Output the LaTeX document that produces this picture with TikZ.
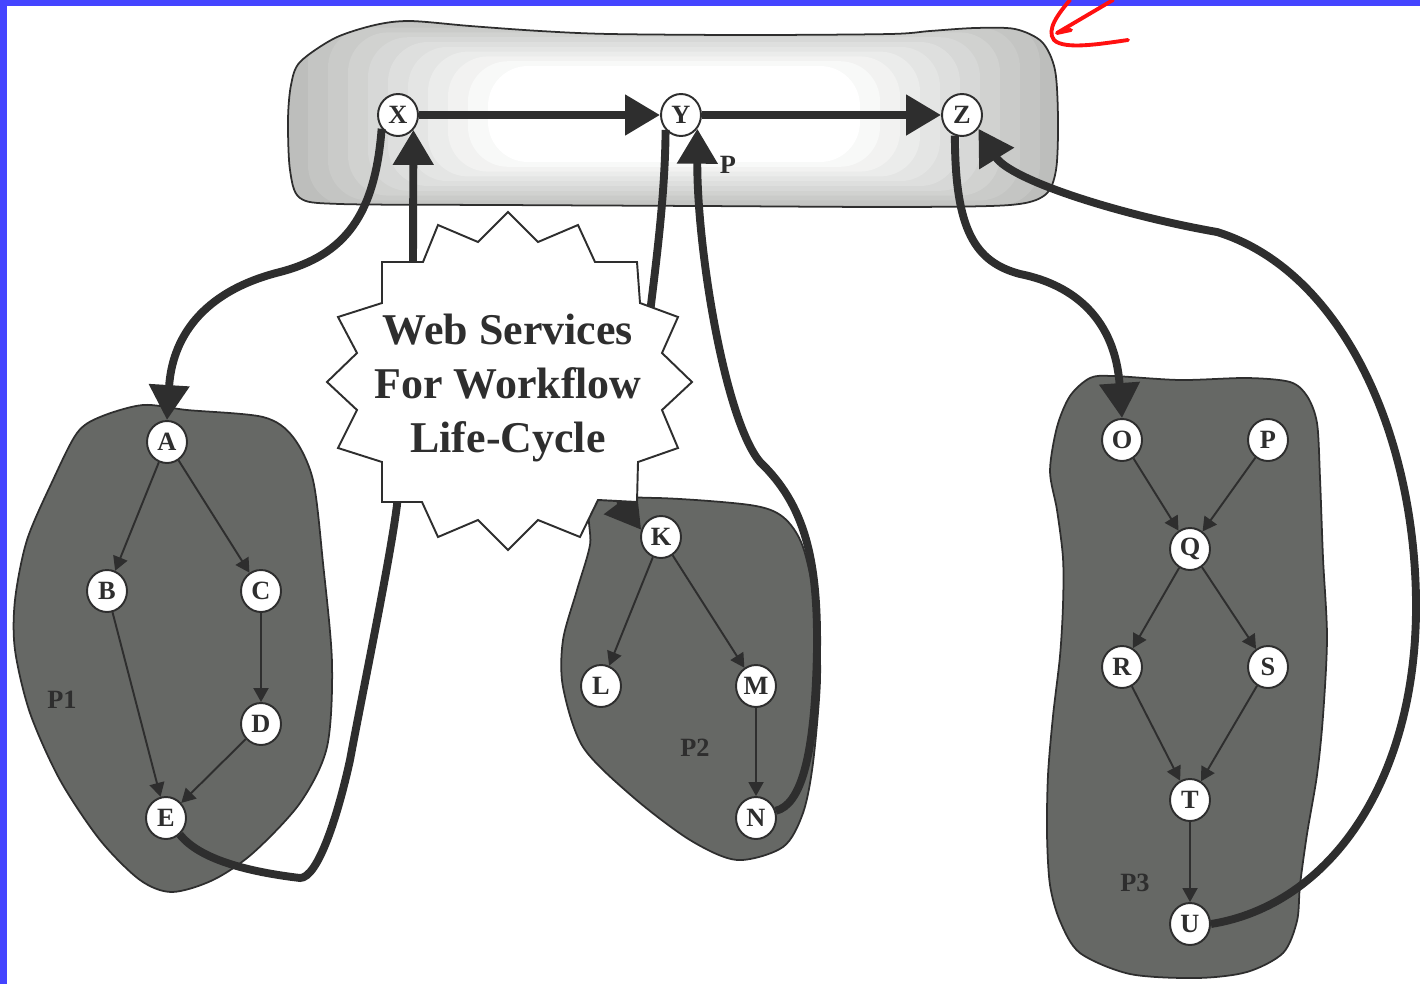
\documentclass[tikz,border=0pt]{standalone}
\usepackage{fontspec}
\setmainfont{Liberation Serif}
\usetikzlibrary{arrows.meta,shapes.geometric}
\definecolor{Ink}{HTML}{2E2E2E}
\definecolor{PoolGray}{HTML}{666865}
\definecolor{BandGray}{HTML}{BDBEBC}
\definecolor{Frame}{HTML}{4444FF}
\definecolor{Scribble}{HTML}{FF1010}
\tikzset{
  task/.style={
    ellipse, draw=Ink, line width=1.1pt, fill=white,
    minimum width=0.8cm, minimum height=0.84cm, inner sep=0pt,
    font=\fontsize{15}{15}\selectfont\bfseries, text=Ink
  },
  pool/.style={draw=Ink, line width=1pt, fill=PoolGray},
  pooltag/.style={font=\fontsize{15}{15}\selectfont\bfseries, text=Ink},
  band/.style={draw=Ink, line width=1pt},
  burst/.style={draw=Ink, line width=1.1pt, fill=white, line join=miter},
  edge/.style={-{Triangle[length=0.28cm,width=0.3cm]}, line width=1.1pt, draw=Ink},
  bigflow/.style={-{Triangle[length=0.7cm,width=0.78cm]}, line width=4.5pt, draw=Ink},
  bigline/.style={line width=4.5pt, draw=Ink}
}

\begin{document}
\begin{tikzpicture}[x=0.02cm, y=-0.02cm]
  \useasboundingbox (0,0) rectangle (1420,984);
  \fill[Frame] (0,0) rectangle (1420,6);
  \fill[Frame] (0,0) rectangle (7,984);

  % global workflow band
  \draw[band, path picture={
      \foreach \k in {0,...,10}{
        \pgfmathtruncatemacro{\tint}{10*\k}
        \fill[white!\tint!BandGray, rounded corners=0.8cm]
          (288+20*\k,18+4.8*\k) rectangle (1060-20*\k,210-4.8*\k);
      }}]
    plot[smooth cycle, tension=0.5] coordinates {
      (300,62) (335,38) (375,25) (410,21) (470,26) (540,31) (610,34)
      (750,35) (890,34) (930,31) (975,28) (1015,29) (1042,42) (1055,70)
      (1058,120) (1056,170) (1045,195) (1010,205) (900,207) (700,206)
      (500,205) (340,204) (300,198) (290,170) (288,120) (291,85)};

  % sub-workflows
  \draw[pool] plot[smooth cycle] coordinates {
    (143,405) (100,417) (77,433) (53,480) (27,540) (15,600) (15,650)
    (30,713) (60,780) (100,840) (140,880) (172,892) (213,880) (253,853)
    (300,803) (327,747) (332,663) (323,563) (313,480) (293,437) (263,417)
    (187,410)};
  \draw[pool] plot[smooth cycle] coordinates {
    (593,502) (657,498) (750,505) (783,517) (803,547) (817,613) (820,680)
    (813,763) (803,813) (783,847) (737,860) (690,840) (633,797) (583,747)
    (563,687) (563,640) (577,590) (590,545)};
  \draw[pool] plot[smooth cycle] coordinates {
    (1090,378) (1070,396) (1057,427) (1050,471) (1057,510) (1063,558)
    (1063,605) (1060,656) (1053,716) (1048,775) (1047,834) (1050,885)
    (1060,921) (1080,953) (1130,974) (1197,978) (1247,972) (1283,953)
    (1297,921) (1300,885) (1307,834) (1317,775) (1323,716) (1327,637)
    (1323,558) (1320,478) (1317,423) (1307,396) (1290,382) (1247,378)
    (1180,380) (1113,376)};

  \node[task] (X) at (398,115) {X};
  \node[task] (Y) at (681,115) {Y};
  \node[task] (Z) at (962,115) {Z};
  \node[task] (A) at (167,442) {A};
  \node[task] (B) at (107,591) {B};
  \node[task] (C) at (261,591) {C};
  \node[task] (D) at (261,724) {D};
  \node[task] (E) at (166,818) {E};
  \node[task] (K) at (661,537) {K};
  \node[task] (L) at (601,686) {L};
  \node[task] (M) at (756,686) {M};
  \node[task] (N) at (756,818) {N};
  \node[task] (O) at (1122,440) {O};
  \node[task] (P) at (1268,440) {P};
  \node[task] (Q) at (1190,549) {Q};
  \node[task] (R) at (1122,667) {R};
  \node[task] (S) at (1268,667) {S};
  \node[task] (T) at (1190,800) {T};
  \node[task] (U) at (1190,924) {U};

  \node[pooltag] (p1) at (62,700) {P1};
  \node[pooltag] (p2) at (695,748) {P2};
  \node[pooltag] (p3) at (1135,883) {P3};
  \node[pooltag] (ptag) at (728,165) {P};

  \foreach \a/\b in {A/B,A/C,C/D,B/E,D/E,K/L,K/M,M/N,O/Q,P/Q,Q/R,Q/S,R/T,S/T,T/U}
    \draw[edge] (\a) -- (\b);

  % links running behind the banner
  \draw[bigflow] (E.-50) .. controls (200,860) and (250,872) .. (300,878)
    .. controls (318,878) and (338,815) .. (350,760)
    .. controls (365,680) and (390,560) .. (397,505) -- (413,262) -- (X.-44);
  \draw[bigflow] (Y.-136) .. controls (665,210) and (652,290) .. (642,380)
    .. controls (634,450) and (615,495) .. (K.160);

  \draw[burst] (508,212) -- (538,242) -- (578,225) -- (595,262) -- (637,262)
    -- (640,303) -- (678,317) -- (662,353) -- (692,382) -- (662,410)
    -- (678,448) -- (638,462) -- (637,502) -- (598,500) -- (580,537)
    -- (538,520) -- (508,550) -- (478,520) -- (438,537) -- (422,502)
    -- (382,502) -- (382,462) -- (338,448) -- (357,410) -- (327,382)
    -- (357,353) -- (338,317) -- (382,303) -- (382,262) -- (423,262)
    -- (438,225) -- (478,242) -- cycle;
  \node[font=\fontsize{25}{31}\selectfont\bfseries, text=Ink, align=center]
    (wslc) at (508,388) {Web Services\\For Workflow\\Life-Cycle};

  \draw[bigflow] (X) -- (Y);
  \draw[bigflow] (Y) -- (Z);
  \draw[bigflow] (X.-140) .. controls (375,215) and (345,255) .. (280,272)
    .. controls (200,292) and (172,340) .. (A.north);
  \draw[bigflow] (N.20) .. controls (800,805) and (815,760) .. (817,650)
    .. controls (818,560) and (805,505) .. (760,462)
    .. controls (725,420) and (697,250) .. (Y.-40);
  \draw[bigflow] (Z.-109) .. controls (955,230) and (975,262) .. (1020,274)
    .. controls (1075,285) and (1115,320) .. (O.north);
  \draw[bigflow] (U.east) .. controls (1330,905) and (1418,780) .. (1416,600)
    .. controls (1414,430) and (1340,270) .. (1217,232)
    .. controls (1120,215) and (1010,180) .. (Z.-40);

  \draw[Scribble, line width=2.2pt, line cap=round]
    (1070,0) .. controls (1058,14) and (1046,30) .. (1054,40)
    .. controls (1064,50) and (1100,44) .. (1128,40);
  \draw[Scribble, line width=2.2pt, line cap=round, line join=round]
    (1113,0) -- (1057,33) -- (1071,30);
\end{tikzpicture}
\end{document}
